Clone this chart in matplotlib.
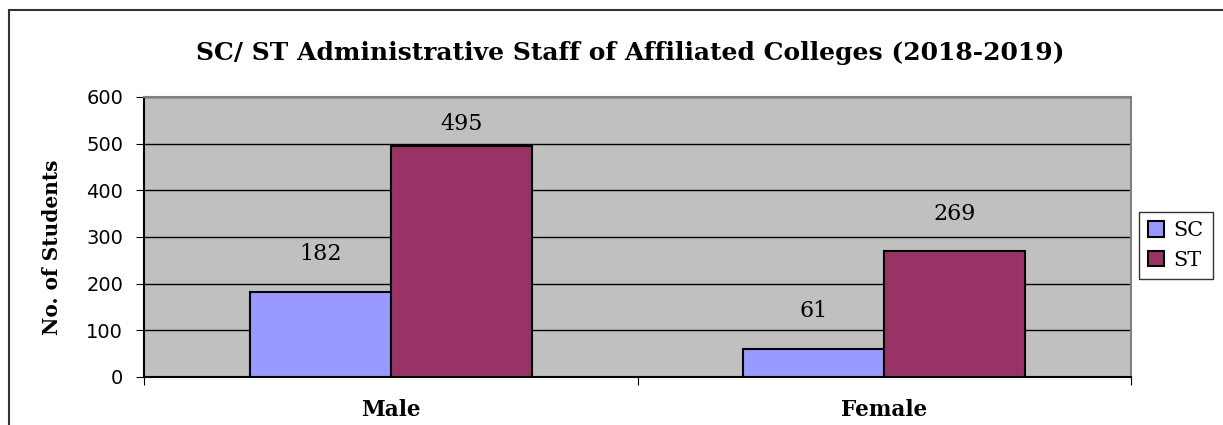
import numpy as np
import matplotlib.pyplot as plt
from matplotlib.patches import Rectangle

# data
categories = ['Male', 'Female']
series_names = ['SC', 'ST']
sc_values = [182, 61]
st_values = [495, 269]
y_ticks = [0, 100, 200, 300, 400, 500, 600]

sc_color = '#9999FF'
st_color = '#993366'
plot_bg = '#C0C0C0'

fig = plt.figure(figsize=(12.23, 4.25), dpi=100)
ax = fig.add_axes([144/1223, 1-377/425, (1131-144)/1223, (377-97)/425])

# outer chart frame (runs off the right and bottom of the image)
fig.patches.append(Rectangle((9/1223, -0.1), 1.2, 1-10/425+0.1, transform=fig.transFigure,
                             fill=False, edgecolor='#333333', linewidth=1.5))

x = np.arange(len(categories))
w = 0.286
ax.bar(x - w/2, sc_values, w, color=sc_color, edgecolor='black', linewidth=1.5, label=series_names[0], zorder=3)
ax.bar(x + w/2, st_values, w, color=st_color, edgecolor='black', linewidth=1.5, label=series_names[1], zorder=3)

# value labels above bars
for xs, vals in [(x - w/2, sc_values), (x + w/2, st_values)]:
    for xi, v in zip(xs, vals):
        ly = min(v + 81, 542)
        ax.text(xi, ly, str(v), ha='center', va='center', family='DejaVu Serif', fontsize=16)

ax.set_facecolor(plot_bg)
ax.set_xlim(-0.5, 1.5)
ax.set_ylim(0, 600)
ax.set_yticks(y_ticks)
ax.set_yticklabels([str(t) for t in y_ticks], family='DejaVu Sans', fontsize=14)
ax.yaxis.grid(True, color='black', linewidth=1.0, zorder=1)
ax.set_axisbelow(True)

ax.set_xticks([-0.5, 0.5, 1.5])
ax.set_xticklabels([])
ax.tick_params(axis='x', length=6, color='black', direction='out')
ax.tick_params(axis='y', length=6, color='black', direction='out', pad=9)
for xi, c in zip(x, categories):
    ax.text(xi, -0.118, c, transform=ax.get_xaxis_transform(), ha='center', va='center',
            family='DejaVu Serif', fontweight='bold', fontsize=15.5)

ax.spines['left'].set_color('black')
ax.spines['bottom'].set_color('black')
ax.spines['top'].set_color('#808080')
ax.spines['right'].set_color('#808080')
for s in ax.spines.values():
    s.set_linewidth(1.5)

fig.text(52/1223, 1-247/425, 'No. of Students', rotation=90, ha='center', va='center',
         family='DejaVu Serif', fontweight='bold', fontsize=14.5)

fig.text(630/1223, 1-53/425, 'SC/ ST Administrative Staff of Affiliated Colleges (2018-2019)',
         ha='center', va='center', family='DejaVu Serif', fontweight='bold', fontsize=18)

leg = fig.legend(loc='upper left', bbox_to_anchor=(1139/1223, 1-212/425), frameon=True,
                 prop={'family': 'DejaVu Serif', 'size': 15}, handlelength=0.75, handleheight=0.75,
                 handletextpad=0.45, borderpad=0.45, labelspacing=0.5, fancybox=False, borderaxespad=0)
leg.get_frame().set_edgecolor('black')
leg.get_frame().set_linewidth(1.0)

fig.savefig('out.png', dpi=100)
